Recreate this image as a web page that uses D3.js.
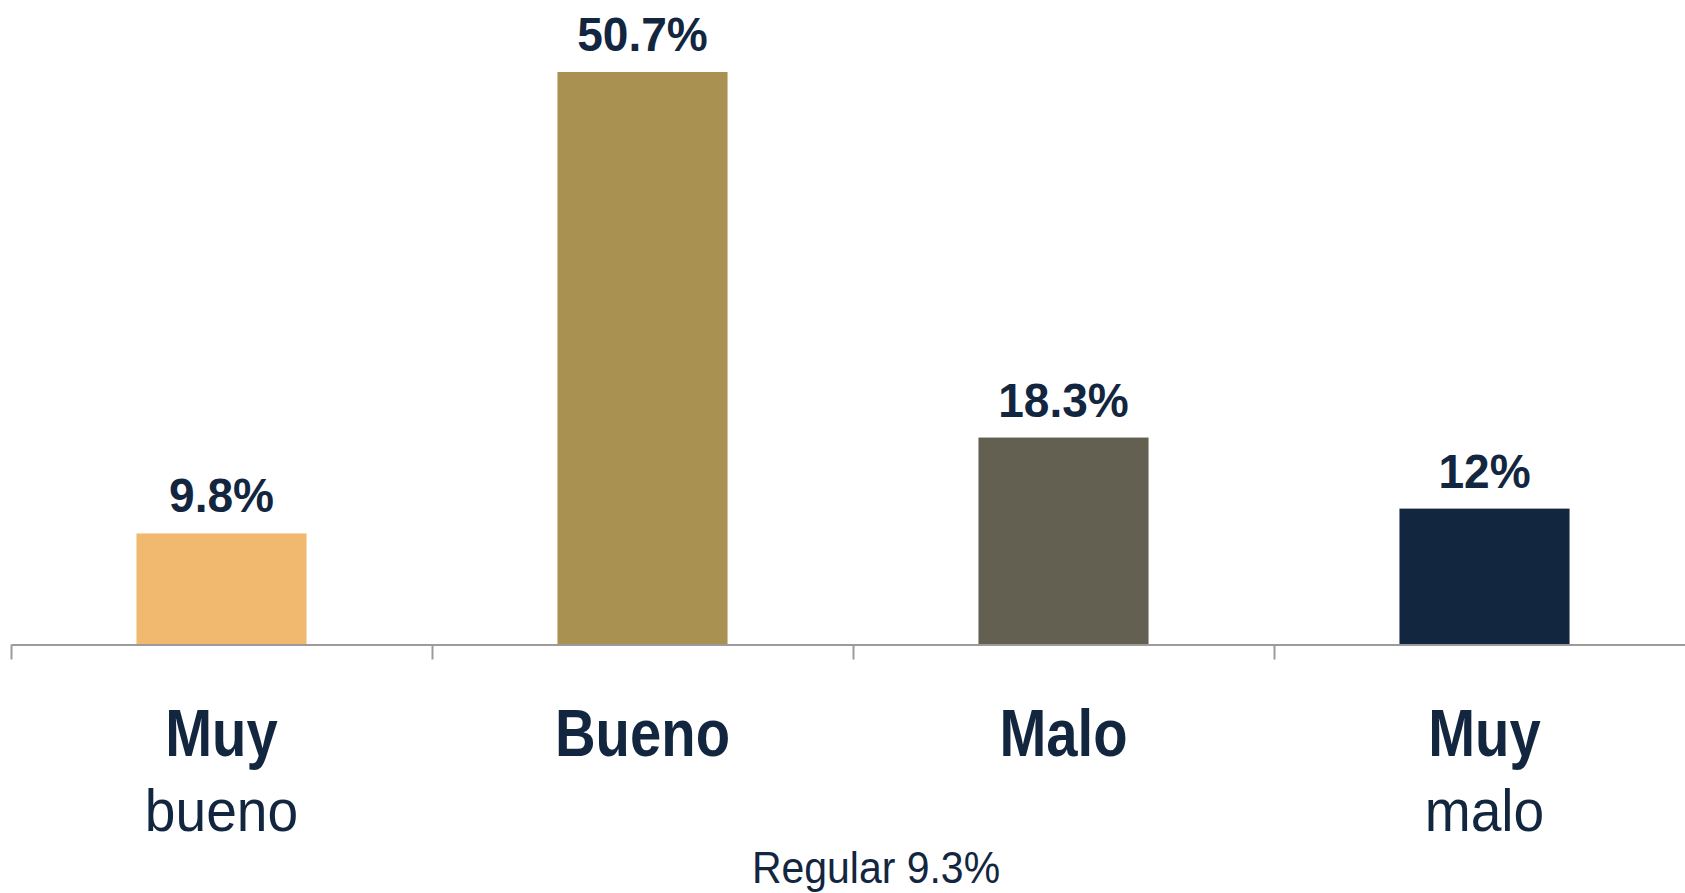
<!DOCTYPE html>
<html>
<head>
<meta charset="utf-8" />
<title>Muy bueno / Bueno / Malo / Muy malo</title>
<script src="https://d3js.org/d3.v7.min.js"></script>
<style>
  body { margin: 0; background: #ffffff; }
  svg { display: block; }
  text { font-family: "Liberation Sans", Arial, sans-serif; fill: #13263f; }
</style>
</head>
<body>
<svg id="viz"></svg>

<script>

// data
var categories = ['Muy bueno', 'Bueno', 'Malo', 'Muy malo'];
var values = [9.8, 50.7, 18.3, 12];
var valueLabels = ['9.8%', '50.7%', '18.3%', '12%'];
var boldLines = ['Muy', 'Bueno', 'Malo', 'Muy'];
var lightLines = ['bueno', '', '', 'malo'];
var colors = ['#f0b96f', '#a99151', '#636052', '#13263f'];
var note = 'Regular 9.3%';

var width = 1685,
    height = 893,
    baseY = 644,
    left = 11,
    band = 421;

var svg = d3.select('#viz')
  .attr('width', width)
  .attr('height', height);

var x = d3.scaleBand()
  .domain(categories)
  .range([left, left + band * categories.length])
  .padding(0);

var y = d3.scaleLinear()
  .domain([0, 50.7])
  .range([baseY, 72]);

var barW = x.bandwidth() * 0.404;

var rows = categories.map(function(c, i) {
  return { cat: c, v: values[i], lab: valueLabels[i], b: boldLines[i], l: lightLines[i], col: colors[i] };
});

//bars
svg.selectAll('rect.bar')
  .data(rows)
  .enter().append('rect')
  .attr('class', 'bar')
  .attr('x', function(d) { return x(d.cat) + (x.bandwidth() - barW) / 2; })
  .attr('y', function(d) { return y(d.v); })
  .attr('width', barW)
  .attr('height', function(d) { return y(0) - y(d.v); })
  .style('fill', function(d) { return d.col; });

//axis: ticks sit on band edges, so use an index scale
var edge = d3.scaleLinear()
  .domain([0, categories.length])
  .range(x.range());

var axis = svg.append('g')
  .attr('transform', 'translate(0,' + (baseY + 0.5) + ')')
  .call(d3.axisBottom(edge)
    .tickValues(d3.range(categories.length + 1))
    .tickSize(15)
    .tickSizeOuter(0)
    .tickFormat(''));
axis.selectAll('path, line')
  .attr('stroke', '#9b9b9b')
  .attr('stroke-width', 2);

function mid(d) { return x(d.cat) + x.bandwidth() / 2; }

//value labels
svg.selectAll('text.val')
  .data(rows)
  .enter().append('text')
  .attr('class', 'val')
  .attr('text-anchor', 'middle')
  .attr('transform', function(d) {
    return 'translate(' + mid(d) + ',' + (y(d.v) - 21) + ') scale(0.94,1)';
  })
  .style('font-size', '49px')
  .style('font-weight', 'bold')
  .text(function(d) { return d.lab; });

//category labels
svg.selectAll('text.cat')
  .data(rows)
  .enter().append('text')
  .attr('class', 'cat')
  .attr('text-anchor', 'middle')
  .attr('transform', function(d) { return 'translate(' + mid(d) + ',756) scale(0.84,1)'; })
  .style('font-size', '67px')
  .style('font-weight', 'bold')
  .text(function(d) { return d.b; });

svg.selectAll('text.cat2')
  .data(rows.filter(function(d) { return d.l; }))
  .enter().append('text')
  .attr('class', 'cat2')
  .attr('text-anchor', 'middle')
  .attr('transform', function(d) { return 'translate(' + mid(d) + ',831) scale(0.92,1)'; })
  .style('font-size', '60px')
  .text(function(d) { return d.l; });

//note for the missing category
svg.append('text')
  .attr('text-anchor', 'middle')
  .attr('transform', 'translate(876,883) scale(0.91,1)')
  .style('font-size', '45px')
  .text(note);

</script>
</body>
</html>
